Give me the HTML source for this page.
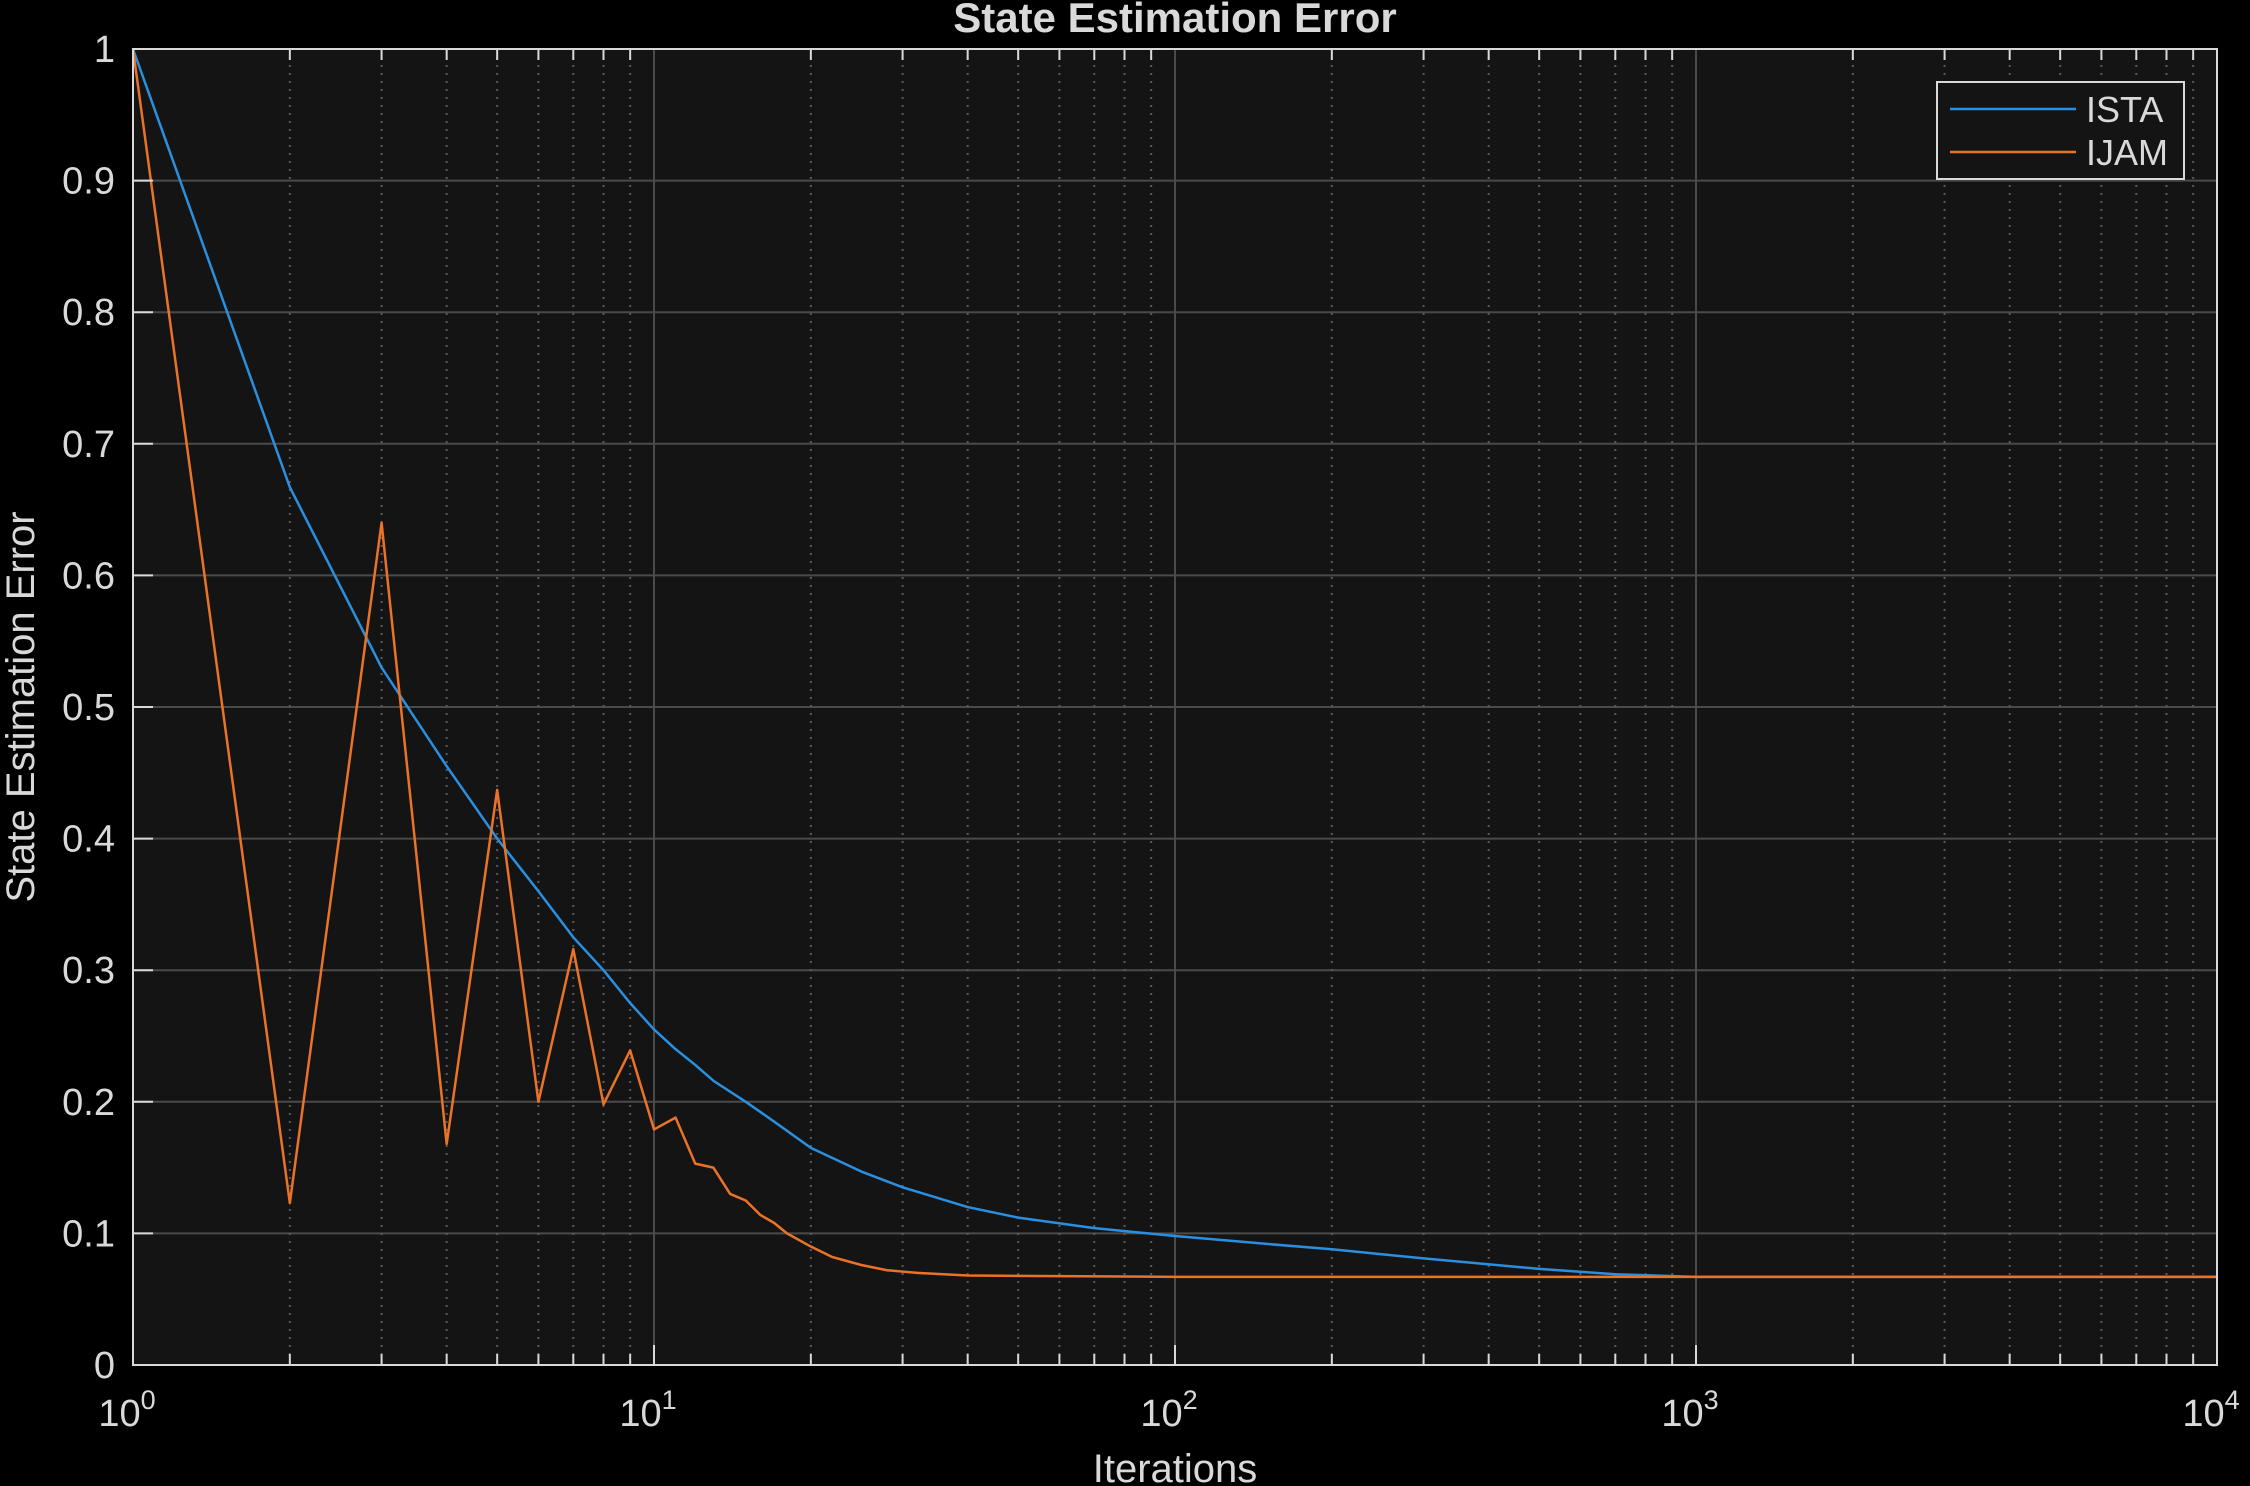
<!DOCTYPE html>
<html><head><meta charset="utf-8"><style>
body{margin:0;background:#000;}
svg{display:block;font-family:"Liberation Sans",Arial,sans-serif;}
</style></head><body>
<svg id="chart" width="2250" height="1486" xmlns="http://www.w3.org/2000/svg">
<rect width="2250" height="1486" fill="#000"/>
<rect x="133" y="49" width="2084" height="1316" fill="#141414"/>
<g id="grid"></g>
<g id="series"></g>
<rect x="133" y="49" width="2084" height="1316" fill="none" stroke="#d9d9d9" stroke-width="2"/>
<g id="ticks"></g>
<text x="1175" y="32" text-anchor="middle" font-size="42" font-weight="bold" fill="#d9d9d9">State Estimation Error</text>
<text x="1175" y="1482" text-anchor="middle" font-size="40" fill="#d9d9d9">Iterations</text>
<text transform="translate(34,707) rotate(-90)" text-anchor="middle" font-size="40" fill="#d9d9d9">State Estimation Error</text>
<g>
<rect x="1937" y="82" width="247" height="97" fill="#141414" stroke="#d9d9d9" stroke-width="2"/>
<line x1="1950" y1="109" x2="2076" y2="109" stroke="#2b8fe0" stroke-width="2.5"/>
<text x="2086" y="122" font-size="36" fill="#d9d9d9">ISTA</text>
<line x1="1950" y1="152" x2="2076" y2="152" stroke="#ea7327" stroke-width="2.5"/>
<text x="2086" y="165" font-size="36" fill="#d9d9d9">IJAM</text>
</g>
</svg>
<script>
const yTicks=[0,0.1,0.2,0.3,0.4,0.5,0.6,0.7,0.8,0.9,1];
const yTickLabels=["0","0.1","0.2","0.3","0.4","0.5","0.6","0.7","0.8","0.9","1"];
const xDecades=[0,1,2,3,4];
const istaX=[1,2,3,4,5,6,7,8,9,10,11,12,13,15,17,20,25,30,40,50,70,100,150,200,300,500,700,1000,10000];
const istaY=[1,0.667,0.53,0.455,0.4,0.36,0.325,0.3,0.275,0.255,0.24,0.228,0.216,0.2,0.185,0.165,0.147,0.135,0.12,0.112,0.104,0.098,0.092,0.088,0.081,0.073,0.069,0.067,0.067];
const ijamX=[1,2,3,4,5,6,7,8,9,10,11,12,13,14,15,16,17,18,20,22,25,28,32,40,100,10000];
const ijamY=[1,0.123,0.64,0.168,0.437,0.2,0.316,0.198,0.239,0.179,0.188,0.153,0.15,0.13,0.125,0.114,0.108,0.1,0.09,0.082,0.076,0.072,0.07,0.068,0.067,0.067];
const L=133,R=2217,T=49,B=1365;
const xs=v=>L+(Math.log10(v)/4)*(R-L);
const ys=v=>B-v*(B-T);
const NS="http://www.w3.org/2000/svg";
function mk(tag,attrs,parent){const e=document.createElementNS(NS,tag);for(const k in attrs)e.setAttribute(k,attrs[k]);parent.appendChild(e);return e;}
const grid=document.getElementById('grid'),ticks=document.getElementById('ticks'),series=document.getElementById('series');
yTicks.forEach((v,i)=>{
  if(v>0&&v<1){const g=mk('line',{x1:L,x2:R,y1:ys(v),y2:ys(v),stroke:'#4a4a4a','stroke-width':2},grid);
  
  }
  const tk=mk('line',{x1:L,x2:L+20,y1:ys(v),y2:ys(v),stroke:'#d9d9d9','stroke-width':2},ticks);
  
  
  const t=mk('text',{x:115,y:ys(v)+13,'text-anchor':'end','font-size':38,fill:'#d9d9d9'},ticks);
  t.textContent=yTickLabels[i];
  
  
});
xDecades.forEach(d=>{
  const x=xs(Math.pow(10,d));
  if(d>0&&d<4){const g=mk('line',{x1:x,x2:x,y1:T,y2:B,stroke:'#4a4a4a','stroke-width':2},grid);
  
  }
  const tk=mk('line',{x1:x,x2:x,y1:B,y2:B-20,stroke:'#d9d9d9','stroke-width':2},ticks);
  
  
  const t=mk('text',{x:x-6,y:1426,'text-anchor':'middle','font-size':38,fill:'#d9d9d9'},ticks);
  t.innerHTML='10<tspan dy="-17" font-size="27">'+d+'</tspan>';
  
  
  if(d<4){for(let m=2;m<=9;m++){const xm=xs(m*Math.pow(10,d));
    const g=mk('line',{x1:xm,x2:xm,y1:T,y2:B,stroke:'#5a5a5a','stroke-width':2,'stroke-dasharray':'2 6'},grid);
    
    
    const mt=mk('line',{x1:xm,x2:xm,y1:B,y2:B-11,stroke:'#d9d9d9','stroke-width':2},ticks);
    
    
    const mt2=mk('line',{x1:xm,x2:xm,y1:T,y2:T+11,stroke:'#d9d9d9','stroke-width':2},ticks);
    
    }}
});
function line(xa,ya,color,name){
  const p=mk('polyline',{points:xa.map((x,i)=>xs(x)+','+ys(ya[i])).join(' '),fill:'none',stroke:color,'stroke-width':2.5,'stroke-linejoin':'round'},series);
  
  
}
line(istaX,istaY,'#2b8fe0','ista-line');
line(ijamX,ijamY,'#ea7327','ijam-line');
</script>
</body></html>
